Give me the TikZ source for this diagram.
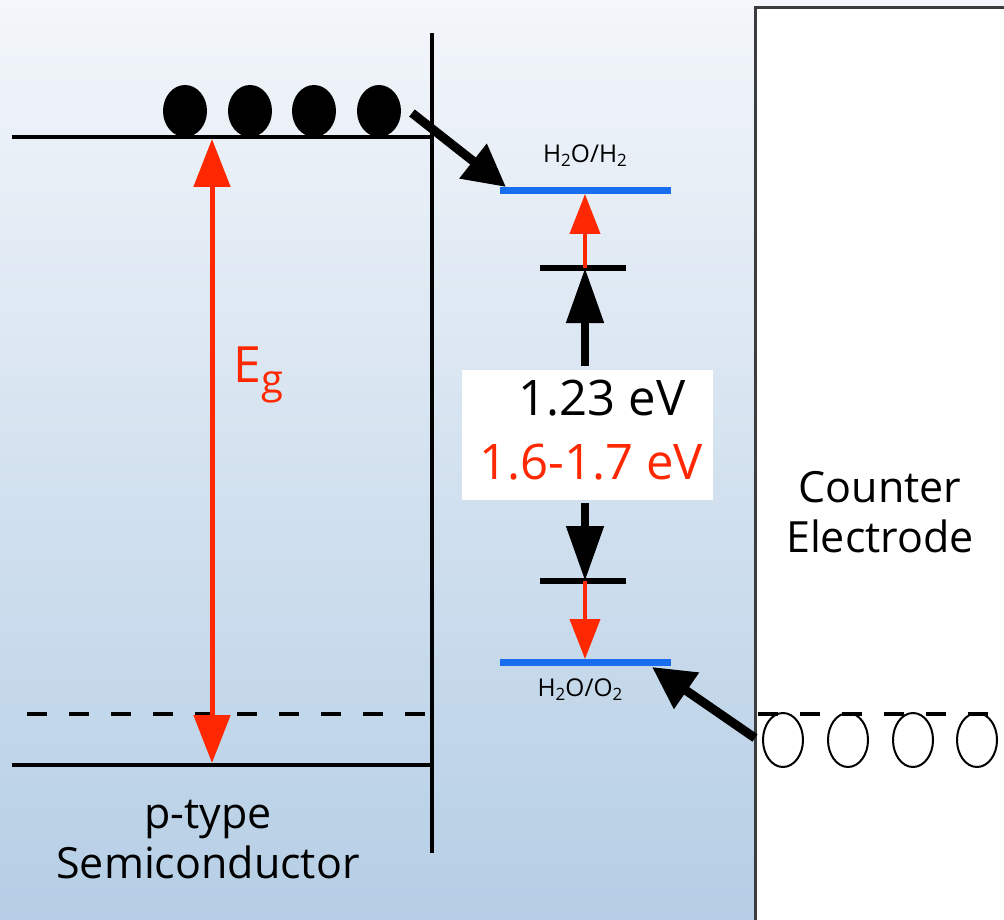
\documentclass[tikz,border=0pt]{standalone}
\usepackage{fontspec}
\setmainfont{Open Sans}
\usetikzlibrary{arrows.meta}
\definecolor{bgtop}{RGB}{243,246,250}
\definecolor{bgbot}{RGB}{181,206,229}
\definecolor{myred}{RGB}{255,40,0}
\definecolor{myblue}{RGB}{25,110,240}
\definecolor{boxgray}{RGB}{60,60,60}
\tikzset{
  band/.style={line width=4.5pt, line cap=butt},
  redox/.style={line width=7pt, myblue},
  tick/.style={line width=6pt},
  redarr/.style={draw=myred, line width=4pt, -{Triangle[length=40pt,width=30pt]}, myred},
  blkarr/.style={line width=8pt, -{Triangle[length=55pt,width=36pt]}},
  transfer/.style={line width=9pt, -{Triangle[length=42pt,width=42pt]}},
  lbl/.style={inner sep=0pt, font=\fontsize{43}{50}\selectfont, align=center},
  val/.style={inner sep=0pt, font=\fontsize{49}{50}\selectfont},
  small/.style={inner sep=0pt, font=\fontsize{24.5}{26}\selectfont},
}
\begin{document}
\begin{tikzpicture}[x=1pt,y=-1pt]
\useasboundingbox (0,0) rectangle (1004,920);
\shade[top color=bgtop, bottom color=bgbot] (0,0) rectangle (1004,920);
% counter electrode
\fill[white] (755,8) rectangle (1010,925);
\draw[boxgray, line width=3pt] (755,925) -- (755,8) -- (1010,8);
% semiconductor bands
\coordinate (cbL) at (12,137); \coordinate (cbR) at (432,137);
\coordinate (vbL) at (12,765); \coordinate (vbR) at (432,765);
\draw[band] (cbL) -- (cbR);
\draw[band] (vbL) -- (vbR);
\draw[line width=3.5pt] (432,33) -- (432,853);
\draw[line width=3.5pt, dash pattern=on 20pt off 22pt] (27,714) -- (432,714);
% electrons
\foreach \x/\n in {185/e1,250/e2,314/e3,379/e4}
  \fill (\x,111) ellipse [x radius=22pt, y radius=26pt] coordinate (\n);
% Eg arrow
\coordinate (egT) at (212,139); \coordinate (egB) at (212,763);
\draw[myred, line width=5pt, {Triangle[length=48pt,width=36pt]}-{Triangle[length=48pt,width=36pt]}] (egT) -- (egB);
\node[myred, inner sep=0pt, font=\fontsize{50}{50}\selectfont, anchor=west] (eg) at (233,375) {E\raisebox{-11pt}{\fontsize{40}{40}\selectfont g}};
% redox levels
\coordinate (h2L) at (500,191); \coordinate (h2R) at (671,191); \coordinate (h2M) at (585,194);
\coordinate (o2L) at (500,662); \coordinate (o2R) at (671,662); \coordinate (o2M) at (585,659);
\draw[redox] (h2L) -- (h2R);
\draw[redox] (o2L) -- (o2R);
\node[small] (h2lbl) at (585,156) {H\raisebox{-4pt}{\fontsize{17}{17}\selectfont 2}O/H\raisebox{-4pt}{\fontsize{17}{17}\selectfont 2}};
\node[small] (o2lbl) at (580,690) {H\raisebox{-4pt}{\fontsize{17}{17}\selectfont 2}O/O\raisebox{-4pt}{\fontsize{17}{17}\selectfont 2}};
% ticks
\coordinate (t1L) at (540,268); \coordinate (t1R) at (626,268); \coordinate (t1) at (585,268);
\coordinate (t2L) at (540,581); \coordinate (t2R) at (626,581); \coordinate (t2) at (585,581);
\draw[tick] (t1L) -- (t1R);
\draw[tick] (t2L) -- (t2R);
\draw[redarr] (t1) -- (h2M);
\draw[redarr] (t2) -- (o2M);
% value box
\node[fill=white, minimum width=251pt, minimum height=130pt, inner sep=0pt] (vbox) at (587.5,435) {};
\node[val] (v1) at (602,398) {1.23 eV};
\node[val, myred] (v2) at (591,462) {1.6-1.7 eV};
\draw[blkarr] (585,366) -- (t1);
\draw[blkarr] (585,503) -- (t2);
% transfer arrows
\coordinate (eStart) at (412,113);
\coordinate (eEnd) at (506,187);
\draw[transfer] (eStart) -- (eEnd);
\coordinate (hStart) at (755,738);
\coordinate (hEnd) at (652,667);
\draw[transfer] (hStart) -- (hEnd);
% holes
\draw[line width=3.5pt, dash pattern=on 20pt off 22pt] (758,714) -- (1004,714);
\foreach \x/\n in {783/h1,848/h2,913/h3,977/h4}
  \draw[line width=2pt] (\x,740) ellipse [x radius=20pt, y radius=27pt] coordinate (\n);
% labels
\node[lbl] (ce) at (880,512) {Counter\\Electrode};
\node[lbl] (sc) at (208,840) {p-type\\Semiconductor};
\end{tikzpicture}
\end{document}
